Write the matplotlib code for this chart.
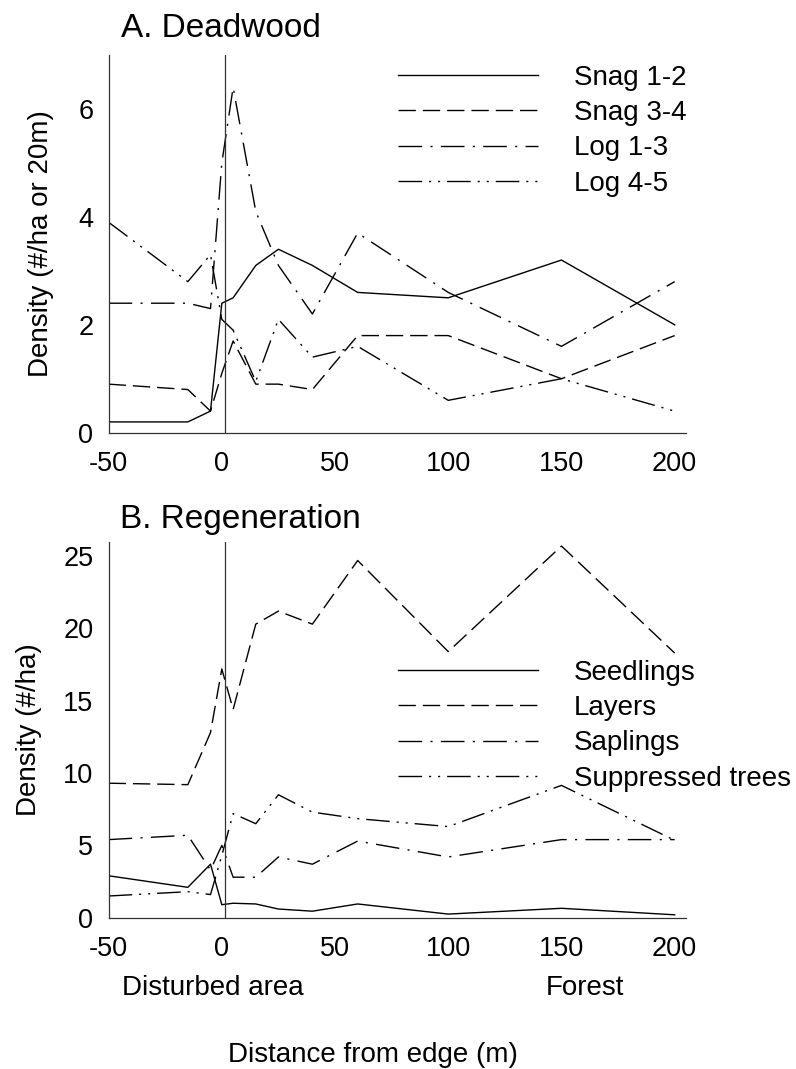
import matplotlib
matplotlib.use("Agg")
import matplotlib.pyplot as plt

plt.rcParams['font.family'] = ['Liberation Sans', 'DejaVu Sans']
plt.rcParams['axes.unicode_minus'] = False

# ---- data ----
dist = [-50, -15, -5, 0, 5, 15, 25, 40, 60, 100, 150, 200]

snag12 = [0.2, 0.2, 0.4, 2.4, 2.5, 3.1, 3.4, 3.1, 2.6, 2.5, 3.2, 2.0]
snag34 = [0.9, 0.8, 0.4, 1.1, 1.7, 0.9, 0.9, 0.8, 1.8, 1.8, 1.0, 1.8]
log13 = [2.4, 2.4, 2.3, 5.0, 6.4, 4.1, 3.1, 2.2, 3.7, 2.6, 1.6, 2.8]
log45 = [3.9, 2.8, 3.3, 2.1, 1.9, 0.95, 2.1, 1.4, 1.6, 0.6, 1.0, 0.4]

seedlings = [2.9, 2.1, 3.7, 0.9, 1.0, 0.95, 0.6, 0.45, 0.95, 0.25, 0.65, 0.2]
layers = [9.3, 9.2, 12.8, 17.2, 14.4, 20.3, 21.2, 20.3, 24.7, 18.4, 25.7, 18.3]
saplings = [5.4, 5.7, 3.3, 5.0, 2.8, 2.8, 4.2, 3.7, 5.3, 4.2, 5.4, 5.4]
suppressed = [1.5, 1.8, 1.6, 4.3, 7.2, 6.5, 8.5, 7.3, 6.85, 6.3, 9.15, 5.35]

labels_a = ["Snag 1-2", "Snag 3-4", "Log 1-3", "Log 4-5"]
labels_b = ["Seedlings", "Layers", "Saplings", "Suppressed trees"]
xticks = [-50, 0, 50, 100, 150, 200]
yticks_a = [0, 2, 4, 6]
yticks_b = [0, 5, 10, 15, 20, 25]

# ---- styles ----
styles = ['-',
          (0, (12.5, 5)),
          (0, (17, 6, 1.5, 6)),
          (0, (17, 5, 1.5, 5, 1.5, 5))]
LW = 1.0
W, H = 796, 1069
fig = plt.figure(figsize=(W / 100, H / 100), dpi=100)

def px_ax(l, t, r, b):
    return [l / W, 1 - b / H, (r - l) / W, (b - t) / H]

axA = fig.add_axes(px_ax(108.6, 55, 686, 432.7))
axB = fig.add_axes(px_ax(108.6, 541.7, 686, 917.7))

def style_ax(ax, yt, ylim):
    ax.set_xlim(-50, 205)
    ax.set_ylim(*ylim)
    ax.set_xticks(xticks)
    ax.set_yticks(yt)
    for s in ['top', 'right']:
        ax.spines[s].set_visible(False)
    for s in ['left', 'bottom']:
        ax.spines[s].set_color('#333333')
        ax.spines[s].set_linewidth(0.9)
    ax.tick_params(axis='both', length=0, labelsize=19.5)
    ax.tick_params(axis='x', pad=13)
    ax.tick_params(axis='y', pad=11)
    ax.axvline(1.3, color='#333333', lw=0.9)

seriesA = [snag12, snag34, log13, log45]
for vals, ls, lab in zip(seriesA, styles, labels_a):
    axA.plot(dist, vals, color='black', lw=LW, linestyle=ls, label=lab)
style_ax(axA, yticks_a, (0, 7))

seriesB = [seedlings, layers, saplings, suppressed]
for vals, ls, lab in zip(seriesB, styles, labels_b):
    axB.plot(dist, vals, color='black', lw=LW, linestyle=ls, label=lab)
style_ax(axB, yticks_b, (0, 26))

leg_kw = dict(frameon=False, fontsize=20, handlelength=5.07, handletextpad=1.28,
              labelspacing=0.33, borderpad=0, borderaxespad=0, loc='upper left',
              bbox_transform=fig.transFigure)
axA.legend(bbox_to_anchor=(397.5 / W, 1 - 65 / H), **leg_kw)
axB.legend(bbox_to_anchor=(397.5 / W, 1 - 660 / H), **leg_kw)

fig.text(121 / W, 1 - 36.7 / H, "A. Deadwood", fontsize=24, ha='left', va='baseline')
fig.text(120 / W, 1 - 528 / H, "B. Regeneration", fontsize=24, ha='left', va='baseline')

fig.text(41 / W, 1 - 244 / H, "Density (#/ha or 20m)", fontsize=20, rotation=90,
         ha='center', va='center')
fig.text(29 / W, 1 - 730 / H, "Density (#/ha)", fontsize=20, rotation=90,
         ha='center', va='center')

fig.text(213 / W, 1 - 988 / H, "Disturbed area", fontsize=20, ha='center', va='center')
fig.text(584.5 / W, 1 - 988 / H, "Forest", fontsize=20, ha='center', va='center')
fig.text(372.5 / W, 1 - 1055 / H, "Distance from edge (m)", fontsize=20,
         ha='center', va='center')

fig.savefig("out.png", dpi=100)
